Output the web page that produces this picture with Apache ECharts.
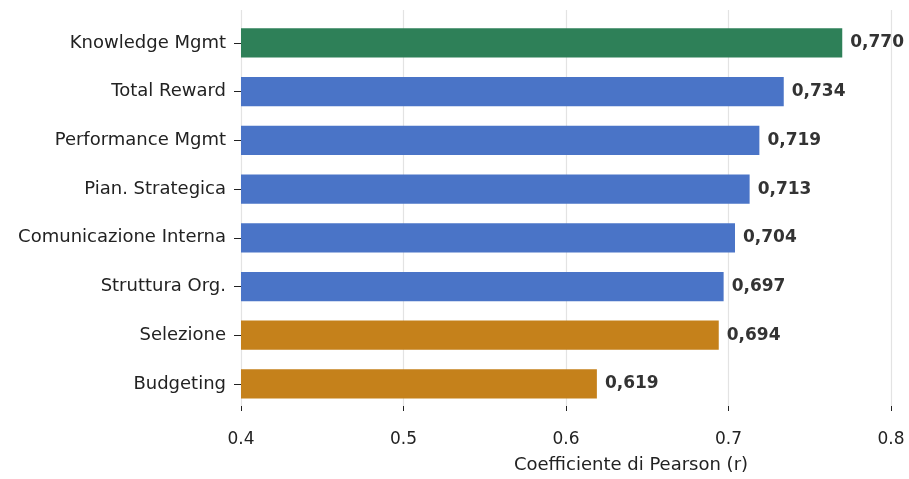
<!DOCTYPE html>
<html>
<head>
<meta charset="utf-8">
<script src="https://cdn.jsdelivr.net/npm/echarts@6/dist/echarts.min.js"></script>
<style>
  html, body { margin: 0; padding: 0; background: #fff; }
  #chart { width: 909px; height: 479px; }
</style>
</head>
<body>
<div id="chart"></div>
<script>
// Pearson correlation per HR area, top to bottom
const categories = [
  'Knowledge Mgmt', 'Total Reward', 'Performance Mgmt', 'Pian. Strategica',
  'Comunicazione Interna', 'Struttura Org.', 'Selezione', 'Budgeting'
];
const values = [0.770, 0.734, 0.719, 0.713, 0.704, 0.697, 0.694, 0.619];
const groups = ['top', 'mid', 'mid', 'mid', 'mid', 'mid', 'low', 'low'];
const xTicks = [0.4, 0.5, 0.6, 0.7, 0.8];

const groupColors = { top: '#2E8058', mid: '#4A74C7', low: '#C5811B' };
const font = 'DejaVu Sans';

const chart = echarts.init(document.getElementById('chart'), null, { renderer: 'canvas' });

chart.setOption({
  animation: false,
  backgroundColor: '#ffffff',
  grid: [
    // bar area
    { left: 241, right: 18, top: 18.6, height: 389.7 },
    // frame for the grid lines and the value axis
    { left: 241, right: 18, top: 10, bottom: 62 }
  ],
  xAxis: [
    {
      gridIndex: 0, type: 'value', min: 0.4, max: 0.8, interval: 0.1, show: false
    },
    {
      gridIndex: 1, type: 'value', min: 0.4, max: 0.8, interval: 0.1,
      offset: 2,
      axisLine: { show: false },
      axisTick: { show: true, length: 5, lineStyle: { color: '#222', width: 1 } },
      axisLabel: {
        margin: 23, fontFamily: font, fontSize: 17, color: '#222',
        formatter: v => xTicks.find(t => Math.abs(t - v) < 1e-9).toFixed(1)
      },
      splitLine: { show: true, lineStyle: { color: '#e3e3e3', width: 1.2 } },
      name: 'Coefficiente di Pearson (r)',
      nameLocation: 'middle',
      nameGap: 48,
      nameTextStyle: { fontFamily: font, fontSize: 18, color: '#222', padding: [0, 0, 0, 130] }
    }
  ],
  yAxis: [
    {
      gridIndex: 0, type: 'category', data: categories, inverse: true,
      axisLine: { show: false },
      axisTick: { show: true, alignWithLabel: true, length: 7, lineStyle: { color: '#222', width: 1 } },
      axisLabel: { margin: 15, fontFamily: font, fontSize: 18, color: '#222' }
    },
    {
      gridIndex: 1, type: 'value', show: false
    }
  ],
  series: [
    {
      type: 'bar',
      xAxisIndex: 0,
      yAxisIndex: 0,
      barWidth: '60%',
      data: values.map((v, i) => ({ value: v, itemStyle: { color: groupColors[groups[i]] } })),
      label: {
        show: true,
        position: 'right',
        distance: 8,
        fontFamily: font,
        fontSize: 17,
        fontWeight: 'bold',
        color: '#333',
        formatter: p => p.value.toFixed(3).replace('.', ',')
      }
    }
  ]
});
</script>
</body>
</html>
